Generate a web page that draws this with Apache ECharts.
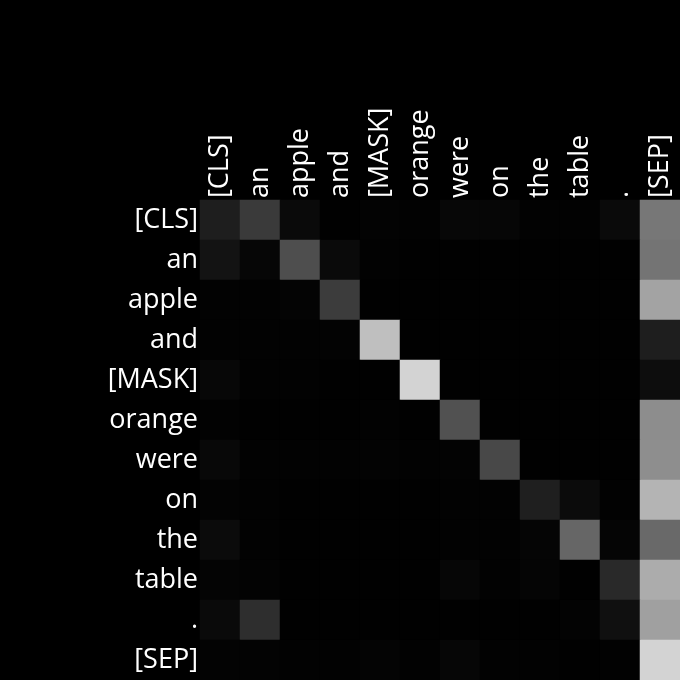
<!DOCTYPE html>
<html><head><meta charset="utf-8">
<script src="https://cdn.jsdelivr.net/npm/echarts@6/dist/echarts.min.js"></script>
<style>html,body{margin:0;padding:0;background:#000;}#c{width:680px;height:680px;}</style>
</head><body><div id="c"></div>
<script>
const tokens = ["[CLS]","an","apple","and","[MASK]","orange","were","on","the","table",".","[SEP]"];
// attention weights (rows = query tokens, cols = key tokens), read from grey levels
const row0  = [0.118,0.227,0.039,0.004,0.012,0.008,0.027,0.024,0.008,0.008,0.039,0.467];
const row1  = [0.075,0.024,0.306,0.039,0.008,0.004,0.004,0.004,0.004,0.004,0.004,0.455];
const row2  = [0.008,0.008,0.016,0.235,0.004,0.004,0.004,0.004,0.004,0.004,0.004,0.639];
const row3  = [0.008,0.008,0.008,0.012,0.749,0.004,0.004,0.004,0.004,0.004,0.004,0.118];
const row4  = [0.027,0.008,0.008,0.004,0.004,0.827,0.002,0.002,0.002,0.002,0.002,0.051];
const row5  = [0.008,0.004,0.004,0.004,0.008,0.004,0.318,0.004,0.004,0.004,0.004,0.553];
const row6  = [0.031,0.008,0.008,0.008,0.012,0.008,0.012,0.282,0.004,0.004,0.004,0.557];
const row7  = [0.012,0.008,0.004,0.004,0.004,0.004,0.008,0.008,0.122,0.043,0.008,0.706];
const row8  = [0.043,0.008,0.004,0.004,0.004,0.004,0.008,0.008,0.020,0.400,0.020,0.412];
const row9  = [0.016,0.012,0.004,0.004,0.004,0.004,0.024,0.008,0.020,0.004,0.161,0.675];
const row10 = [0.039,0.180,0.004,0.004,0.004,0.004,0.004,0.004,0.004,0.012,0.063,0.627];
const row11 = [0.012,0.012,0.008,0.008,0.016,0.008,0.024,0.008,0.008,0.004,0.008,0.827];
const rows = [row0,row1,row2,row3,row4,row5,row6,row7,row8,row9,row10,row11];

const data = [];
rows.forEach((r, i) => r.forEach((v, j) => data.push([j, i, v])));

const chart = echarts.init(document.getElementById('c'));
const font = '"Open Sans", "Noto Sans", sans-serif';
chart.setOption({
  backgroundColor: '#000',
  animation: false,
  grid: {left: 200, top: 200, width: 480, height: 480, containLabel: false},
  xAxis: {
    type: 'category', data: tokens, position: 'top',
    axisLine: {show: false}, axisTick: {show: false}, splitLine: {show: false},
    axisLabel: {rotate: -90, color: '#fff', fontSize: 27, fontFamily: font, margin: 2, interval: 0, padding: [4, 0, 0, 0]}
  },
  yAxis: {
    type: 'category', data: tokens, inverse: true,
    axisLine: {show: false}, axisTick: {show: false}, splitLine: {show: false},
    axisLabel: {color: '#fff', fontSize: 27, fontFamily: font, margin: 2, interval: 0, padding: [4, 0, 0, 0]}
  },
  visualMap: {show: false, min: 0, max: 1, dimension: 2, inRange: {color: ['#000000', '#ffffff']}},
  series: [{type: 'heatmap', data: data, itemStyle: {borderWidth: 0}, emphasis: {disabled: true}}]
});
</script></body></html>
